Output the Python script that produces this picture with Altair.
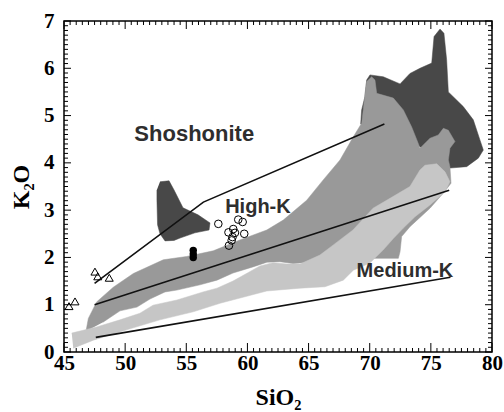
import altair as alt
import pandas as pd

# ---- field outlines (SiO2 wt%, K2O wt%) ----
big_dark_x = [69.26, 69.34, 69.61, 69.75, 70.02, 71.11, 72.48, 73.29, 74.11, 75.07, 75.26, 75.75, 76.07,
              76.29, 76.43, 77.65, 78.47, 79.02, 79.29, 78.88, 77.93, 76.56, 75.75, 74.52, 73.29, 70.84]
big_dark_y = [4.82, 5.12, 5.40, 5.75, 5.86, 5.82, 5.67, 5.89, 6.00, 6.11, 6.67, 6.83, 6.74,
              6.18, 5.50, 5.19, 4.91, 4.48, 4.27, 4.10, 3.92, 3.89, 4.06, 4.27, 4.48, 4.59]

small_dark_x = [52.85, 53.59, 53.99, 54.73, 55.96, 56.94, 56.86, 55.71, 54.49, 54.00, 53.26, 52.85, 52.65, 52.60, 52.60]
small_dark_y = [3.60, 3.62, 3.43, 3.05, 2.90, 2.73, 2.58, 2.52, 2.41, 2.36, 2.35, 2.50, 2.69, 3.21, 3.43]

mid_x = [46.80, 46.99, 47.67, 49.03, 50.67, 53.12, 55.03, 57.21, 59.39, 61.58, 62.93, 64.85, 66.20, 67.57,
         68.66, 69.34, 69.47, 69.65, 69.75, 70.16, 70.43, 70.57, 71.93, 72.75, 73.43, 73.97, 74.11, 74.93,
         75.61, 76.02, 76.43, 76.97, 76.56, 76.43, 76.56, 76.65, 76.02, 74.93, 73.29, 72.61, 72.48, 72.34,
         70.02, 67.57, 65.12, 63.73, 62.66, 61.60, 60.45, 58.82, 57.51, 56.12, 54.24, 53.26, 52.03, 50.97,
         49.58, 48.19]
mid_y = [0.44, 0.71, 1.06, 1.37, 1.66, 1.95, 2.02, 2.14, 2.37, 2.58, 2.79, 3.21, 3.64, 4.06,
         4.55, 4.84, 5.12, 5.54, 5.72, 5.82, 5.75, 5.47, 5.37, 5.12, 4.76, 4.41, 4.31, 4.52,
         4.59, 4.73, 4.69, 4.45, 4.31, 4.06, 3.92, 3.57, 3.36, 3.04, 2.65, 2.44, 2.12, 1.98,
         1.98, 1.90, 1.90, 1.87, 1.91, 1.90, 1.80, 1.67, 1.52, 1.42, 1.31, 1.27, 1.12, 0.95,
         0.87, 0.63]

light_x = [45.63, 47.67, 49.58, 51.21, 52.28, 54.24, 56.37, 57.51, 58.82, 61.03, 62.09, 63.24, 64.30,
           65.93, 67.00, 68.63, 70.27, 71.66, 73.29, 74.11, 74.52, 75.48, 76.16, 76.56, 76.16, 74.93,
           73.70, 72.75, 71.93, 71.11, 70.02, 68.66, 67.84, 66.34, 64.30, 61.58, 57.76, 55.57, 52.85,
           50.13, 47.40, 45.76]
light_y = [0.40, 0.53, 0.68, 0.82, 0.99, 1.10, 1.27, 1.35, 1.50, 1.82, 1.89, 1.86, 1.86,
           2.05, 2.26, 2.58, 3.04, 3.25, 3.50, 3.85, 3.95, 3.98, 3.81, 3.60, 3.39, 3.11,
           2.86, 2.62, 2.40, 2.16, 1.88, 1.73, 1.52, 1.38, 1.35, 1.29, 1.03, 0.85, 0.68,
           0.47, 0.25, 0.08]

# ---- series boundary lines ----
shos_line_x = [47.5, 56.4, 71.2]
shos_line_y = [1.45, 3.17, 4.82]
highk_line_x = [47.5, 76.5]
highk_line_y = [1.00, 3.42]
medk_line_x = [47.6, 76.6]
medk_line_y = [0.31, 1.58]

# ---- samples ----
tri_x = [47.53, 47.76, 48.70, 45.41, 45.90]
tri_y = [1.70, 1.60, 1.57, 0.97, 1.07]
solid_x = [55.57, 55.57, 55.57]
solid_y = [2.15, 2.07, 2.00]
open_x = [57.62, 59.25, 59.61, 58.84, 58.45, 58.98, 59.74, 58.78, 58.71, 58.49]
open_y = [2.71, 2.80, 2.75, 2.60, 2.53, 2.52, 2.50, 2.43, 2.36, 2.25]

# ---- field labels ----
label_text = ["Shoshonite", "High-K", "Medium-K"]
label_x = [55.65, 60.86, 72.88]
label_y = [4.60, 3.06, 1.72]
label_size = [22, 20, 20]

# ---- axis ticks ----
x_major = [45, 50, 55, 60, 65, 70, 75, 80]
x_minor = [45 + 0.5 * i for i in range(71) if i % 10 != 0]
y_major = [0, 1, 2, 3, 4, 5, 6, 7]
y_minor = [round(0.1 * i, 1) for i in range(71) if i % 10 != 0]

W, H = 428, 331
DARK, MID, LIGHT = "#484848", "#999999", "#c6c6c6"

xscale = alt.Scale(domain=[45, 80], nice=False, zero=False)
yscale = alt.Scale(domain=[0, 7], nice=False, zero=False)
serif = "Liberation Serif"
xaxis = alt.Axis(values=x_major, ticks=False, domain=False, grid=False, labelFont=serif,
                 labelFontWeight="bold", labelFontSize=21, labelColor="black", labelPadding=0,
                 labelFlush=False, labelOverlap=False, titleFont=serif, titleFontWeight="bold",
                 titleFontSize=24, titleColor="black", titlePadding=12)
yaxis = alt.Axis(values=y_major, ticks=False, domain=False, grid=False, labelFont=serif,
                 labelFontWeight="bold", labelFontSize=21, labelColor="black", labelPadding=10,
                 labelFlush=False, labelOverlap=False, titleFont=serif, titleFontWeight="bold",
                 titleFontSize=24, titleColor="black", titlePadding=10)
X = alt.X("x:Q", scale=xscale, axis=xaxis, title="SiO₂")
Y = alt.Y("y:Q", scale=yscale, axis=yaxis, title="K₂O")


def poly_frame(xs, ys, name):
    return pd.DataFrame({"x": xs, "y": ys, "i": range(len(xs)), "g": name})


def polygon(df, color):
    return alt.Chart(df).mark_line(fill=color, stroke=color, strokeWidth=0.5, interpolate="linear").encode(
        x=X, y=Y, order="i:Q", detail="g:N")


dark = polygon(pd.concat([poly_frame(big_dark_x, big_dark_y, "a"),
                          poly_frame(small_dark_x, small_dark_y, "b")]), DARK)
mid = polygon(poly_frame(mid_x, mid_y, "m"), MID)
light = polygon(poly_frame(light_x, light_y, "l"), LIGHT)

lines_df = pd.concat([
    poly_frame(shos_line_x, shos_line_y, "s"),
    poly_frame(highk_line_x, highk_line_y, "h"),
    poly_frame(medk_line_x, medk_line_y, "m"),
])
lines = alt.Chart(lines_df).mark_line(color="#111111", strokeWidth=1.6).encode(
    x=X, y=Y, order="i:Q", detail="g:N")

tri = alt.Chart(pd.DataFrame({"x": tri_x, "y": tri_y})).mark_point(
    shape="triangle-up", filled=False, color="black", size=64, strokeWidth=1, opacity=1).encode(x=X, y=Y)
solid = alt.Chart(pd.DataFrame({"x": solid_x, "y": solid_y})).mark_circle(
    color="black", size=55, opacity=1).encode(x=X, y=Y)
opn = alt.Chart(pd.DataFrame({"x": open_x, "y": open_y})).mark_point(
    shape="circle", filled=False, color="black", size=58, strokeWidth=1, opacity=1).encode(x=X, y=Y)

labels = alt.Chart(pd.DataFrame({"x": label_x, "y": label_y, "t": label_text, "s": label_size})).mark_text(
    font="Liberation Sans", fontWeight="bold", color="#2e2e2e", align="center", baseline="middle").encode(
    x=X, y=Y, text="t:N", size=alt.Size("s:Q", scale=None, legend=None))

# inward ticks on all four sides of the frame
xmaj = pd.DataFrame({"x": x_major})
xmin = pd.DataFrame({"x": x_minor})
ymaj = pd.DataFrame({"y": y_major})
ymin = pd.DataFrame({"y": y_minor})
tk = dict(color="black", strokeWidth=1)
ticks = [
    alt.Chart(xmaj).mark_rule(**tk).encode(x=X, y=alt.value(H), y2=alt.value(H - 9)),
    alt.Chart(xmin).mark_rule(**tk).encode(x=X, y=alt.value(H), y2=alt.value(H - 4)),
    alt.Chart(xmaj).mark_rule(**tk).encode(x=X, y=alt.value(0), y2=alt.value(8)),
    alt.Chart(xmin).mark_rule(**tk).encode(x=X, y=alt.value(0), y2=alt.value(4)),
    alt.Chart(ymaj).mark_rule(**tk).encode(y=Y, x=alt.value(0), x2=alt.value(7)),
    alt.Chart(ymin).mark_rule(**tk).encode(y=Y, x=alt.value(0), x2=alt.value(4)),
    alt.Chart(ymaj).mark_rule(**tk).encode(y=Y, x=alt.value(W), x2=alt.value(W - 7)),
    alt.Chart(ymin).mark_rule(**tk).encode(y=Y, x=alt.value(W), x2=alt.value(W - 4)),
]

chart = alt.layer(dark, mid, light, lines, tri, solid, opn, labels, *ticks).properties(
    width=W, height=H,
    autosize=alt.AutoSizeParams(type="none"),
    padding={"left": 64, "top": 21, "right": 12, "bottom": 60},
    background="white",
).configure_view(stroke="black", strokeWidth=1.5)

chart.save("out.html", embed_options={"renderer": "svg", "actions": False})
